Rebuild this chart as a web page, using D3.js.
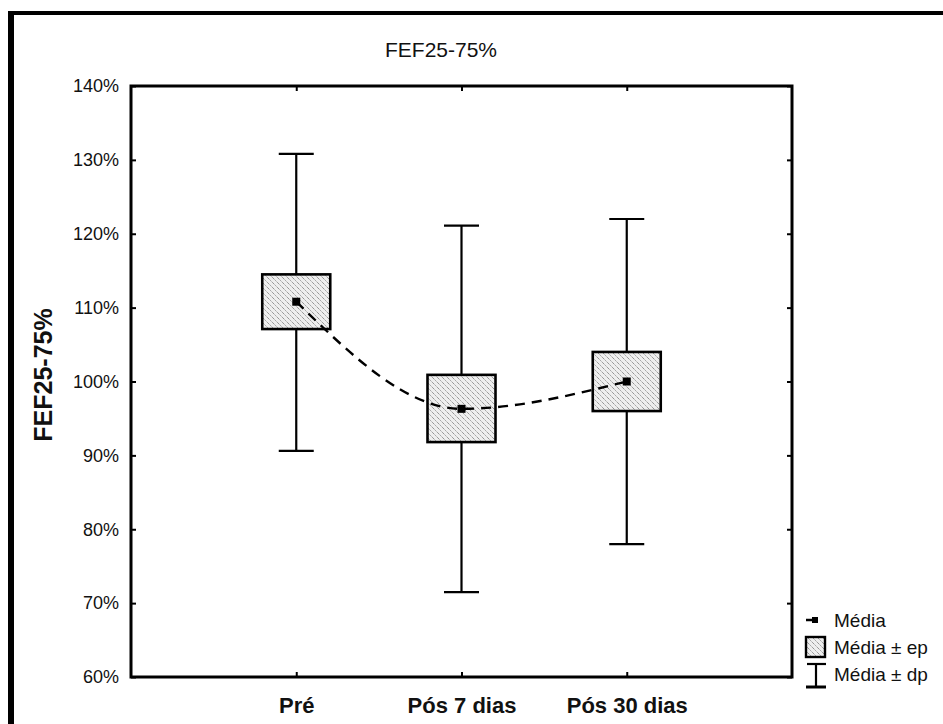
<!DOCTYPE html>
<html lang="pt">
<head>
<meta charset="UTF-8">
<title>FEF25-75%</title>
<script src="https://d3js.org/d3.v7.min.js"></script>
<style>
  body { margin: 0; background: #fff; }
  svg text { font-family: "Liberation Sans", Arial, Helvetica, sans-serif; fill: #111; }
</style>
</head>
<body>
<div id="chart"></div>
<script>
// dados (% do previsto)
const categories = ["Pré", "Pós 7 dias", "Pós 30 dias"];
const means = [110.8, 96.3, 100.0];
const seLow = [107.1, 91.8, 96.0];
const seHigh = [114.5, 100.9, 104.0];
const sdLow = [90.6, 71.5, 78.0];
const sdHigh = [130.8, 121.1, 122.0];
const yTicks = [60, 70, 80, 90, 100, 110, 120, 130, 140];
const legendLabels = ["Média", "Média ± ep", "Média ± dp"];

const W = 943, H = 724;
const plot = { left: 131, right: 792, top: 86, bottom: 677 };

const svg = d3.select("#chart").append("svg")
  .attr("width", W).attr("height", H);

// hachura das caixas
const pat = svg.append("defs").append("pattern")
  .attr("id", "hatch").attr("patternUnits", "userSpaceOnUse")
  .attr("width", 5).attr("height", 5);
pat.append("rect").attr("width", 5).attr("height", 5).attr("fill", "#eeeeee");
pat.append("path").attr("d", "M-1,-1 L6,6 M-1,4 L1,6 M4,-1 L6,1")
  .attr("stroke", "#7a7a7a").attr("stroke-width", 1).attr("stroke-dasharray", "1.2,0.8");

// moldura externa (só topo e esquerda visíveis)
svg.append("rect").attr("x", 8).attr("y", 11).attr("width", W).attr("height", 4).attr("fill", "#000");
svg.append("rect").attr("x", 8).attr("y", 11).attr("width", 6).attr("height", H).attr("fill", "#000");

const x = d3.scalePoint().domain(categories).range([plot.left, plot.right]).padding(1);
const y = d3.scaleLinear().domain([60, 140]).range([plot.bottom, plot.top]);

// eixos com ticks para dentro
svg.append("g").attr("transform", `translate(${plot.left},0)`)
  .call(d3.axisLeft(y).tickValues(yTicks).tickSize(-5).tickPadding(12).tickFormat(d => d + "%"))
  .call(g => g.select(".domain").remove())
  .call(g => g.selectAll("line").attr("stroke", "#000").attr("stroke-width", 2))
  .call(g => g.selectAll("text").attr("font-size", 18).attr("fill", "#111"));

svg.append("g").attr("transform", `translate(${plot.right},0)`)
  .call(d3.axisRight(y).tickValues(yTicks).tickSize(-5).tickFormat(""))
  .call(g => g.select(".domain").remove())
  .call(g => g.selectAll("line").attr("stroke", "#000").attr("stroke-width", 2));

svg.append("g").attr("transform", `translate(0,${plot.bottom})`)
  .call(d3.axisBottom(x).tickSize(-5).tickPadding(20))
  .call(g => g.select(".domain").remove())
  .call(g => g.selectAll("line").attr("stroke", "#000").attr("stroke-width", 2))
  .call(g => g.selectAll("text").attr("font-size", 22).attr("font-weight", "bold").attr("fill", "#111"));

svg.append("g").attr("transform", `translate(0,${plot.top})`)
  .call(d3.axisTop(x).tickSize(-5).tickFormat(""))
  .call(g => g.select(".domain").remove())
  .call(g => g.selectAll("line").attr("stroke", "#000").attr("stroke-width", 2));

svg.append("rect")
  .attr("x", plot.left).attr("y", plot.top)
  .attr("width", plot.right - plot.left).attr("height", plot.bottom - plot.top)
  .attr("fill", "none").attr("stroke", "#000").attr("stroke-width", 3);

// títulos
svg.append("text").attr("x", 441).attr("y", 57).attr("text-anchor", "middle")
  .attr("font-size", 21).text("FEF25-75%");
svg.append("text").attr("transform", "translate(52,375) rotate(-90)")
  .attr("text-anchor", "middle").attr("font-size", 25).attr("font-weight", "bold")
  .text("FEF25-75%");

const idx = d3.range(categories.length);
const boxW = 68, capW = 35;

// bigodes (média ± dp)
const wh = svg.append("g").attr("stroke", "#000").attr("stroke-width", 2.2);
idx.forEach(i => {
  const cx = x(categories[i]);
  wh.append("line").attr("x1", cx).attr("x2", cx).attr("y1", y(sdHigh[i])).attr("y2", y(seHigh[i]));
  wh.append("line").attr("x1", cx).attr("x2", cx).attr("y1", y(seLow[i])).attr("y2", y(sdLow[i]));
  wh.append("line").attr("x1", cx - capW / 2).attr("x2", cx + capW / 2).attr("y1", y(sdHigh[i])).attr("y2", y(sdHigh[i]));
  wh.append("line").attr("x1", cx - capW / 2).attr("x2", cx + capW / 2).attr("y1", y(sdLow[i])).attr("y2", y(sdLow[i]));
});

// caixas (média ± ep)
svg.append("g").selectAll("rect").data(idx).join("rect")
  .attr("x", i => x(categories[i]) - boxW / 2)
  .attr("y", i => y(seHigh[i]))
  .attr("width", boxW)
  .attr("height", i => y(seLow[i]) - y(seHigh[i]))
  .attr("fill", "url(#hatch)").attr("stroke", "#000").attr("stroke-width", 2.6);

// linha tracejada das médias
svg.append("path")
  .datum(idx)
  .attr("d", d3.line().x(i => x(categories[i])).y(i => y(means[i])).curve(d3.curveMonotoneX))
  .attr("fill", "none").attr("stroke", "#000").attr("stroke-width", 2.4).attr("stroke-dasharray", "10,7");

svg.append("g").selectAll("rect").data(idx).join("rect")
  .attr("x", i => x(categories[i]) - 4).attr("y", i => y(means[i]) - 4)
  .attr("width", 8).attr("height", 8).attr("fill", "#000");

// legenda
const lg = svg.append("g");
lg.append("line").attr("x1", 806).attr("x2", 813).attr("y1", 620).attr("y2", 620).attr("stroke", "#000").attr("stroke-width", 2.5);
lg.append("rect").attr("x", 812).attr("y", 617).attr("width", 6).attr("height", 6).attr("fill", "#000");
lg.append("rect").attr("x", 806).attr("y", 637).attr("width", 19).attr("height", 20)
  .attr("fill", "url(#hatch)").attr("stroke", "#000").attr("stroke-width", 2.4);
lg.append("line").attr("x1", 816).attr("x2", 816).attr("y1", 664).attr("y2", 687).attr("stroke", "#000").attr("stroke-width", 2.2);
lg.append("line").attr("x1", 807).attr("x2", 826).attr("y1", 664).attr("y2", 664).attr("stroke", "#000").attr("stroke-width", 2.2);
lg.append("line").attr("x1", 806).attr("x2", 826).attr("y1", 687).attr("y2", 687).attr("stroke", "#000").attr("stroke-width", 3);
lg.selectAll("text").data(legendLabels).join("text")
  .attr("x", 834).attr("y", (d, i) => 627 + i * 27)
  .attr("font-size", 19).text(d => d);
</script>
</body>
</html>
